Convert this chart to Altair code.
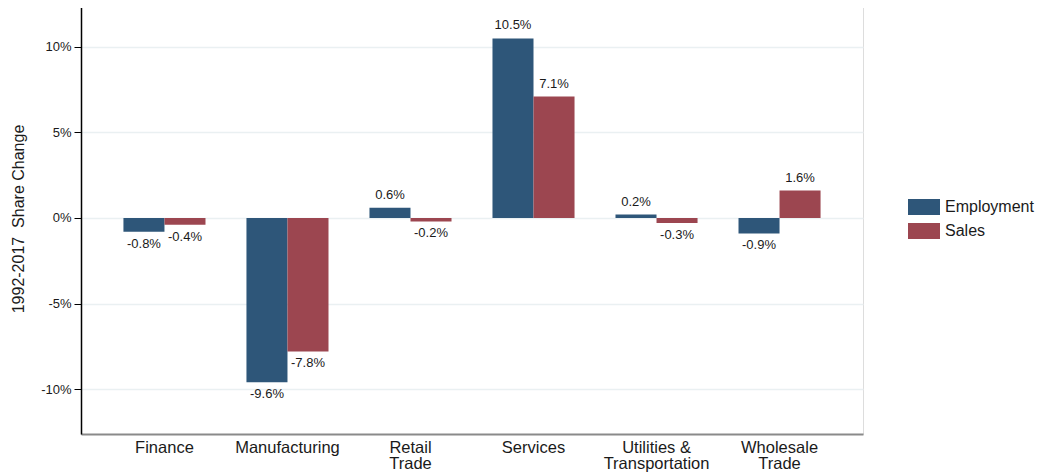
import altair as alt
import pandas as pd

categories = ["Finance", "Manufacturing", "Retail Trade", "Services",
              "Utilities & Transportation", "Wholesale Trade"]
label_lines = {
    "Retail Trade": ["Retail", "Trade"],
    "Utilities & Transportation": ["Utilities &", "Transportation"],
    "Wholesale Trade": ["Wholesale", "Trade"],
}
series = ["Employment", "Sales"]
employment = [-0.8, -9.6, 0.6, 10.5, 0.2, -0.9]
sales = [-0.4, -7.8, -0.2, 7.1, -0.3, 1.6]
colors = ["#2e5679", "#9c4650"]
y_ticks = [-10, -5, 0, 5, 10]

rows = []
for c, e, s in zip(categories, employment, sales):
    rows.append({"cat": c, "series": "Employment", "value": e})
    rows.append({"cat": c, "series": "Sales", "value": s})
df = pd.DataFrame(rows)

expr = "datum.label"
for k, v in reversed(list(label_lines.items())):
    expr = f"(datum.label == '{k}' ? [{', '.join(repr(x) for x in v)}] : {expr})"

FONT = "Liberation Sans"
TXT = "#1a1a1a"

x = alt.X("cat:N", sort=categories,
          scale=alt.Scale(paddingInner=0.333, paddingOuter=0.345),
          axis=alt.Axis(title=None, labelAngle=0, labelExpr=expr, ticks=False,
                        domainColor="#8a8a8a", domainWidth=2, labelFontSize=16.5,
                        labelColor=TXT, labelPadding=5, labelLineHeight=16.5,
                        labelFont=FONT, grid=False))
xo = alt.XOffset("series:N", sort=series)
y = alt.Y("value:Q", scale=alt.Scale(domain=[-12.63, 12.57], nice=False, zero=False),
          axis=alt.Axis(title="1992-2017\u00a0 Share Change", values=y_ticks,
                        labelExpr="datum.value + '%'", labelFontSize=13,
                        labelColor=TXT, labelFont=FONT, tickColor="#000000",
                        tickSize=7, labelPadding=3, domainColor="#000000",
                        domainWidth=1.5, titleFontSize=16, titleFontWeight="normal",
                        titleFont=FONT, titleColor=TXT, titlePadding=14,
                        grid=True, gridColor="#eaf0f2", gridWidth=1.5))

base = alt.Chart(df)
bars = base.mark_bar().encode(
    x=x, xOffset=xo, y=y,
    color=alt.Color("series:N", sort=series,
                    scale=alt.Scale(domain=series, range=colors),
                    legend=alt.Legend(title=None, orient="none", legendX=835, legendY=196,
                                      symbolType="M-2,-1H2V1H-2Z", symbolSize=256,
                                      symbolStrokeWidth=0, labelFontSize=16,
                                      labelFont=FONT, labelColor=TXT,
                                      labelOffset=13, rowPadding=8, padding=0)),
)
txt = base.transform_calculate(
    lbl="(datum.value < 0 ? '-' : '') + format(abs(datum.value), '.1f') + '%'")
pos = txt.transform_filter("datum.value >= 0").mark_text(
    baseline="bottom", dy=-6, fontSize=13, font=FONT, color=TXT).encode(
    x=alt.X("cat:N", sort=categories), xOffset=xo, y="value:Q", text="lbl:N")
neg = txt.transform_filter("datum.value < 0").mark_text(
    baseline="top", dy=6, fontSize=13, font=FONT, color=TXT).encode(
    x=alt.X("cat:N", sort=categories), xOffset=xo, y="value:Q", text="lbl:N")

chart = alt.layer(bars, pos, neg).properties(
    width=782, height=431,
    autosize=alt.AutoSizeParams(type="none"),
    padding={"left": 73, "top": -5, "right": 178, "bottom": 38},
).configure_view(stroke="transparent").configure(background="white")

chart.save("out.html", embed_options={"renderer": "svg", "actions": False})
